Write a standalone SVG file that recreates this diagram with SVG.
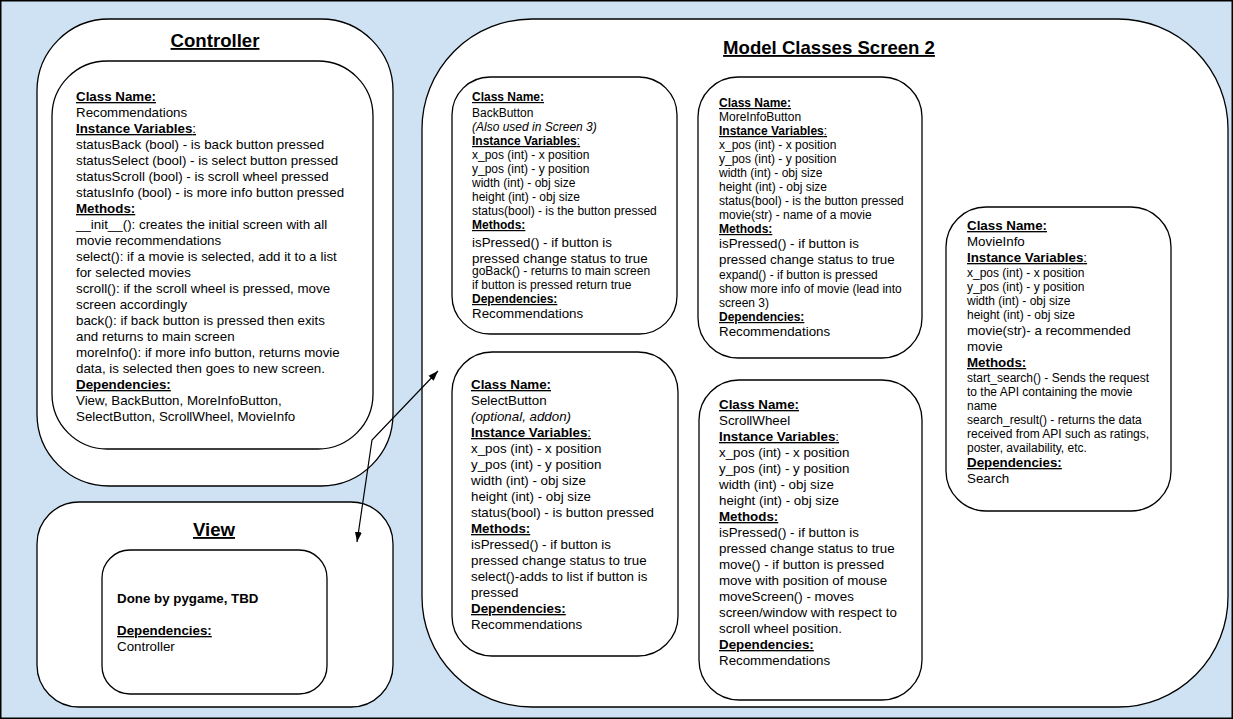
<svg xmlns="http://www.w3.org/2000/svg" width="1233" height="719" viewBox="0 0 1233 719">
<style>
.bg{fill:#cfe2f3;stroke:#000;stroke-width:1.5}
.box{fill:#fff;stroke:#000;stroke-width:1.3}
text{font-family:"Liberation Sans",Arial,sans-serif;fill:#000}
.s12{font-size:12px}
.s13{font-size:13.33px}
.h{font-weight:bold;text-decoration:underline}
.nu{font-weight:normal;text-decoration:none}
.title{font-size:18.6px;font-weight:bold;text-decoration:underline}
.i{font-style:italic}
.conn{fill:none;stroke:#000;stroke-width:1.2}
</style>
<defs>
<marker id="arr" viewBox="0 0 10 10" refX="10" refY="5" markerWidth="10" markerHeight="10" markerUnits="userSpaceOnUse" orient="auto-start-reverse">
<path d="M0,1.5 L10,5 L0,8.5 Z" fill="#000"/>
</marker>
</defs>
<rect class="bg" x="0.75" y="0.75" width="1231.5" height="717.5"/>

<g id="controller">
<rect class="box" x="37" y="19" width="356" height="467" rx="72" ry="72"/>
<text class="title" x="215" y="47" text-anchor="middle">Controller</text>
<rect class="box" x="52" y="61" width="321" height="388" rx="55" ry="55"/>
<g class="s13">
<text class="h" x="76" y="101">Class Name:</text>
<text x="76" y="117">Recommendations</text>
<text class="h" x="76" y="133">Instance Variables<tspan class="nu">:</tspan></text>
<text x="76" y="149">statusBack (bool) - is back button pressed</text>
<text x="76" y="165">statusSelect (bool) - is select button pressed</text>
<text x="76" y="181">statusScroll (bool) - is scroll wheel pressed</text>
<text x="76" y="197">statusInfo (bool) - is more info button pressed</text>
<text class="h" x="76" y="213">Methods:</text>
<text x="76" y="229">__init__(): creates the initial screen with all</text>
<text x="76" y="245">movie recommendations</text>
<text x="76" y="261">select(): if a movie is selected, add it to a list</text>
<text x="76" y="277">for selected movies</text>
<text x="76" y="293">scroll(): if the scroll wheel is pressed, move</text>
<text x="76" y="309">screen accordingly</text>
<text x="76" y="325">back(): if back button is pressed then exits</text>
<text x="76" y="341">and returns to main screen</text>
<text x="76" y="357">moreInfo(): if more info button, returns movie</text>
<text x="76" y="373">data, is selected then goes to new screen.</text>
<text class="h" x="76" y="389">Dependencies:</text>
<text x="76" y="405">View, BackButton, MoreInfoButton,</text>
<text x="76" y="421">SelectButton, ScrollWheel, MovieInfo</text>
</g>
</g>

<g id="view">
<rect class="box" x="37" y="502" width="356" height="205" rx="42" ry="42"/>
<text class="title" x="214" y="536" text-anchor="middle">View</text>
<rect class="box" x="102" y="550" width="225" height="144" rx="28" ry="28"/>
<g class="s13">
<text x="117" y="603" font-weight="bold">Done by pygame, TBD</text>
<text class="h" x="117" y="635">Dependencies:</text>
<text x="117" y="651">Controller</text>
</g>
</g>

<g id="model">
<rect class="box" x="422" y="19" width="806" height="688" rx="110" ry="110"/>
<text class="title" x="829" y="54" text-anchor="middle">Model Classes Screen 2</text>
</g>

<g id="backbutton">
<rect class="box" x="452" y="77" width="225" height="257" rx="38" ry="38"/>
<text class="s12 h" x="472" y="101">Class Name:</text>
<text class="s12" x="472" y="117">BackButton</text>
<text class="s12 i" x="472" y="131">(Also used in Screen 3)</text>
<text class="s12 h" x="472" y="145">Instance Variables<tspan class="nu">:</tspan></text>
<text class="s12" x="472" y="159">x_pos (int) - x position</text>
<text class="s12" x="472" y="173">y_pos (int) - y position</text>
<text class="s12" x="472" y="187">width (int) - obj size</text>
<text class="s12" x="472" y="201">height (int) - obj size</text>
<text class="s12" x="472" y="215">status(bool) - is the button pressed</text>
<text class="s12 h" x="472" y="229">Methods:</text>
<text class="s13" x="472" y="247">isPressed() - if button is</text>
<text class="s13" x="472" y="263">pressed change status to true</text>
<text class="s12" x="472" y="275">goBack() - returns to main screen</text>
<text class="s12" x="472" y="289">if button is pressed return true</text>
<text class="s12 h" x="472" y="303">Dependencies:</text>
<text class="s13" x="472" y="318">Recommendations</text>
</g>

<g id="moreinfobutton">
<rect class="box" x="698" y="77" width="224" height="281" rx="40" ry="40"/>
<text class="s12 h" x="719" y="107">Class Name:</text>
<text class="s12" x="719" y="121">MoreInfoButton</text>
<text class="s12 h" x="719" y="135">Instance Variables<tspan class="nu">:</tspan></text>
<text class="s12" x="719" y="149">x_pos (int) - x position</text>
<text class="s12" x="719" y="163">y_pos (int) - y position</text>
<text class="s12" x="719" y="177">width (int) - obj size</text>
<text class="s12" x="719" y="191">height (int) - obj size</text>
<text class="s12" x="719" y="205">status(bool) - is the button pressed</text>
<text class="s12" x="719" y="219">movie(str) - name of a movie</text>
<text class="s12 h" x="719" y="233">Methods:</text>
<text class="s13" x="719" y="248">isPressed() - if button is</text>
<text class="s13" x="719" y="264">pressed change status to true</text>
<text class="s12" x="719" y="279">expand() - if button is pressed</text>
<text class="s12" x="719" y="293">show more info of movie (lead into</text>
<text class="s12" x="719" y="307">screen 3)</text>
<text class="s12 h" x="719" y="321">Dependencies:</text>
<text class="s13" x="719" y="336">Recommendations</text>
</g>

<g id="selectbutton">
<rect class="box" x="452" y="352" width="226" height="304" rx="40" ry="40"/>
<g class="s13">
<text class="h" x="471" y="389">Class Name:</text>
<text x="471" y="405">SelectButton</text>
<text class="i" x="471" y="421">(optional, addon)</text>
<text class="h" x="471" y="437">Instance Variables<tspan class="nu">:</tspan></text>
<text x="471" y="453">x_pos (int) - x position</text>
<text x="471" y="469">y_pos (int) - y position</text>
<text x="471" y="485">width (int) - obj size</text>
<text x="471" y="501">height (int) - obj size</text>
<text x="471" y="517">status(bool) - is button pressed</text>
<text class="h" x="471" y="533">Methods:</text>
<text x="471" y="549">isPressed() - if button is</text>
<text x="471" y="565">pressed change status to true</text>
<text x="471" y="581">select()-adds to list if button is</text>
<text x="471" y="597">pressed</text>
<text class="h" x="471" y="613">Dependencies:</text>
<text x="471" y="629">Recommendations</text>
</g>
</g>

<g id="scrollwheel">
<rect class="box" x="699" y="380" width="223" height="320" rx="40" ry="40"/>
<g class="s13">
<text class="h" x="719" y="409">Class Name:</text>
<text x="719" y="425">ScrollWheel</text>
<text class="h" x="719" y="441">Instance Variables<tspan class="nu">:</tspan></text>
<text x="719" y="457">x_pos (int) - x position</text>
<text x="719" y="473">y_pos (int) - y position</text>
<text x="719" y="489">width (int) - obj size</text>
<text x="719" y="505">height (int) - obj size</text>
<text class="h" x="719" y="521">Methods:</text>
<text x="719" y="537">isPressed() - if button is</text>
<text x="719" y="553">pressed change status to true</text>
<text x="719" y="569">move() - if button is pressed</text>
<text x="719" y="585">move with position of mouse</text>
<text x="719" y="601">moveScreen() - moves</text>
<text x="719" y="617">screen/window with respect to</text>
<text x="719" y="633">scroll wheel position.</text>
<text class="h" x="719" y="649">Dependencies:</text>
<text x="719" y="665">Recommendations</text>
</g>
</g>

<g id="movieinfo">
<rect class="box" x="946" y="207" width="225" height="304" rx="40" ry="40"/>
<text class="s13 h" x="967" y="230">Class Name:</text>
<text class="s13" x="967" y="246">MovieInfo</text>
<text class="s13 h" x="967" y="262">Instance Variables<tspan class="nu">:</tspan></text>
<text class="s12" x="967" y="277">x_pos (int) - x position</text>
<text class="s12" x="967" y="291">y_pos (int) - y position</text>
<text class="s12" x="967" y="305">width (int) - obj size</text>
<text class="s12" x="967" y="319">height (int) - obj size</text>
<text class="s13" x="967" y="335">movie(str)- a recommended</text>
<text class="s13" x="967" y="351">movie</text>
<text class="s13 h" x="967" y="367">Methods:</text>
<text class="s12" x="967" y="382">start_search() - Sends the request</text>
<text class="s12" x="967" y="396">to the API containing the movie</text>
<text class="s12" x="967" y="410">name</text>
<text class="s12" x="967" y="424">search_result() - returns the data</text>
<text class="s12" x="967" y="438">received from API such as ratings,</text>
<text class="s12" x="967" y="452">poster, availability, etc.</text>
<text class="s13 h" x="967" y="467">Dependencies:</text>
<text class="s13" x="967" y="483">Search</text>
</g>

<g id="connectors">
<path class="conn" d="M357,542 L372,440 L438,371" marker-start="url(#arr)" marker-end="url(#arr)"/>
</g>
</svg>
